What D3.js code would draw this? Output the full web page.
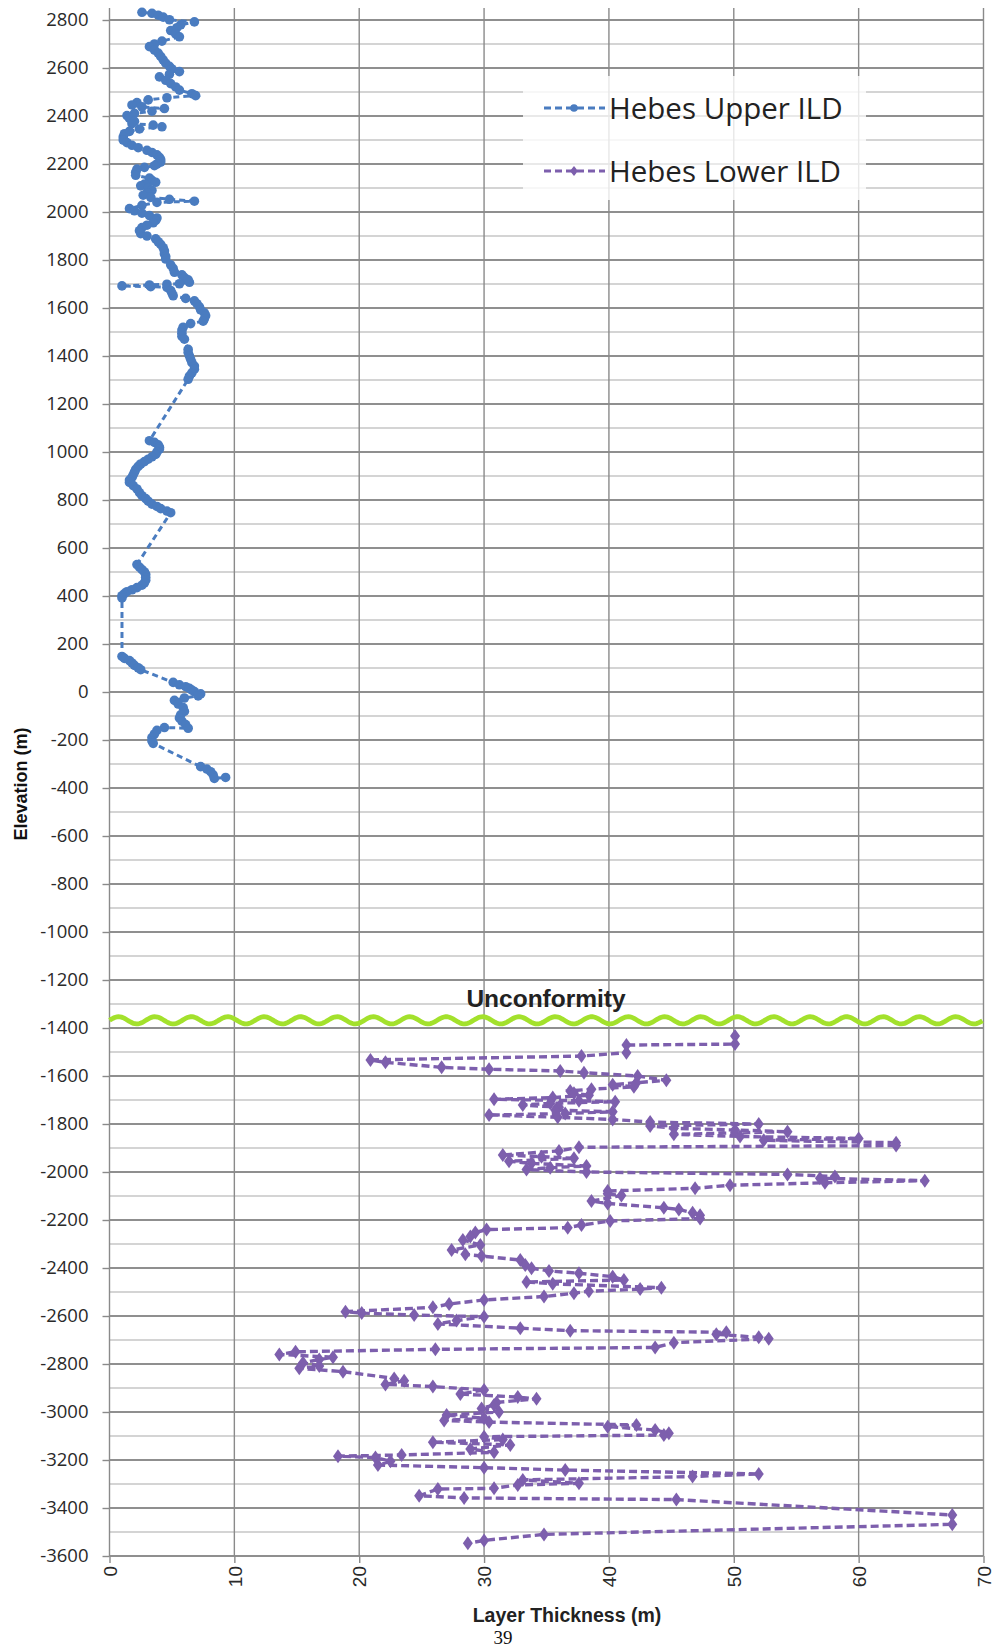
<!DOCTYPE html>
<html>
<head>
<meta charset="utf-8">
<script src="https://cdn.jsdelivr.net/npm/d3@7"></script>
<style>
  html, body { margin: 0; padding: 0; background: #fff; }
  svg { display: block; }
</style>
</head>
<body>
<svg id="chart" width="995" height="1649"></svg>
<script>
// Layer thickness (m) against elevation (m) of interior layered deposits.
// Each row: [elevation, thickness]
const upperILD = [
  [2832,2.6],[2828,3.4],[2820,3.9],[2812,4.3],[2801,4.8],[2792,6.8],[2780,5.7],[2768,5.4],[2756,4.9],[2742,5.3],
  [2730,5.6],[2712,4.2],[2700,3.6],[2689,3.2],[2675,3.6],[2662,3.9],[2648,4.1],[2634,4.3],[2620,4.5],[2607,4.8],
  [2596,5.0],[2585,5.6],[2574,4.8],[2563,4.0],[2549,4.5],[2535,4.9],[2521,5.3],[2508,5.6],[2493,6.6],[2485,6.9],
  [2476,4.6],[2467,3.1],[2456,2.2],[2446,1.8],[2438,2.6],[2431,4.4],[2420,3.4],[2411,2.0],[2402,1.4],[2390,1.6],
  [2378,2.0],[2368,1.8],[2362,3.5],[2355,4.2],[2346,2.4],[2336,1.6],[2326,1.2],[2313,1.1],[2300,1.1],[2289,1.4],
  [2278,1.8],[2268,2.3],[2257,3.0],[2248,3.4],[2238,3.8],[2228,4.0],[2218,4.1],[2208,4.1],[2200,3.8],[2193,3.6],
  [2186,2.8],[2179,2.2],[2166,2.1],[2153,2.1],[2141,3.2],[2132,3.4],[2124,3.7],[2116,2.8],[2109,2.5],[2099,3.1],
  [2090,3.4],[2080,3.0],[2070,2.7],[2061,3.3],[2053,4.8],[2045,6.8],[2040,3.8],[2028,2.6],[2014,1.6],[2005,2.0],
  [1995,2.6],[1985,3.2],[1975,3.8],[1965,3.7],[1955,3.5],[1945,3.0],[1935,2.6],[1922,2.4],[1910,2.5],[1900,3.0],
  [1888,3.7],[1876,3.9],[1865,4.1],[1851,4.3],[1838,4.4],[1826,4.4],[1815,4.5],[1804,4.5],[1780,4.9],[1765,5.1],
  [1749,5.2],[1738,5.8],[1727,6.0],[1717,6.3],[1707,6.4],[1701,5.6],[1699,4.6],[1696,3.2],[1692,1.0],[1689,3.3],
  [1686,4.6],[1673,4.9],[1662,5.0],[1651,5.1],[1640,6.1],[1630,6.8],[1618,7.0],[1605,7.2],[1592,7.3],[1580,7.6],
  [1568,7.7],[1555,7.6],[1545,7.5],[1535,6.5],[1520,5.9],[1508,5.8],[1495,5.8],[1482,5.8],[1470,6.0],[1428,6.3],
  [1415,6.3],[1400,6.4],[1386,6.5],[1372,6.6],[1358,6.8],[1345,6.8],[1330,6.6],[1316,6.4],[1303,6.3],[1047,3.2],
  [1040,3.6],[1030,3.9],[1020,4.0],[1012,4.0],[1000,3.8],[990,3.7],[980,3.4],[970,3.1],[960,2.8],[950,2.5],
  [940,2.3],[928,2.1],[916,2.0],[905,1.9],[894,1.8],[883,1.6],[873,1.6],[860,1.9],[846,2.2],[831,2.4],
  [818,2.6],[806,2.9],[795,3.1],[783,3.4],[773,3.8],[764,4.1],[754,4.6],[747,4.9],[531,2.2],[520,2.4],
  [510,2.6],[500,2.8],[490,2.9],[478,2.9],[466,2.9],[455,2.8],[445,2.6],[435,2.2],[426,1.8],[418,1.4],
  [410,1.2],[401,1.0],[392,1.0],[148,1.0],[140,1.2],[131,1.6],[121,1.8],[111,2.0],[101,2.3],[93,2.5],
  [40,5.1],[30,5.6],[22,6.1],[15,6.4],[8,6.6],[2,6.8],[-8,7.3],[-16,7.1],[-25,6.0],[-35,5.2],
  [-50,5.5],[-65,5.9],[-81,6.0],[-95,5.7],[-108,5.6],[-121,5.8],[-136,6.1],[-151,6.3],[-148,4.4],[-160,3.8],
  [-175,3.6],[-190,3.4],[-204,3.4],[-214,3.5],[-311,7.3],[-321,7.8],[-332,8.1],[-345,8.3],[-360,8.4],[-356,9.3]
];

const lowerILD = [
  [-1433,50.1],[-1467,50.1],[-1471,41.4],[-1503,41.4],[-1517,37.8],[-1533,20.9],[-1543,22.1],[-1564,26.6],[-1572,30.4],[-1579,36.1],
  [-1586,38.0],[-1600,42.3],[-1618,44.6],[-1628,42.2],[-1636,40.3],[-1645,42.0],[-1655,38.6],[-1662,36.9],[-1672,37.2],[-1680,38.4],
  [-1690,35.5],[-1697,30.8],[-1703,37.6],[-1707,40.5],[-1714,35.3],[-1721,33.1],[-1730,36.0],[-1742,35.7],[-1749,40.3],[-1756,36.5],
  [-1763,30.4],[-1772,35.9],[-1781,40.3],[-1792,43.3],[-1800,52.0],[-1808,43.3],[-1818,45.2],[-1825,50.1],[-1832,54.3],[-1843,45.2],
  [-1852,50.5],[-1860,60.0],[-1868,52.4],[-1878,63.0],[-1890,63.0],[-1897,37.6],[-1912,36.0],[-1929,31.5],[-1936,34.6],[-1943,37.2],
  [-1955,32.0],[-1964,33.8],[-1975,38.2],[-1982,35.3],[-1990,33.4],[-2000,38.2],[-2010,54.3],[-2019,58.1],[-2026,56.9],[-2036,65.3],
  [-2045,57.3],[-2055,49.7],[-2068,46.9],[-2079,39.9],[-2091,39.9],[-2098,41.0],[-2121,38.6],[-2131,39.9],[-2149,44.4],[-2156,45.6],
  [-2170,46.7],[-2180,47.3],[-2194,47.3],[-2204,40.1],[-2221,37.8],[-2232,36.7],[-2240,30.2],[-2252,29.3],[-2269,28.9],[-2283,28.3],
  [-2304,29.7],[-2325,27.4],[-2343,28.5],[-2350,29.8],[-2367,32.9],[-2388,33.3],[-2401,33.8],[-2412,35.2],[-2422,37.6],[-2436,40.3],
  [-2450,41.2],[-2458,33.4],[-2466,35.5],[-2482,44.2],[-2488,42.5],[-2497,38.4],[-2505,37.2],[-2519,34.8],[-2533,30.0],[-2550,27.2],
  [-2564,25.9],[-2582,18.9],[-2588,20.2],[-2596,24.4],[-2603,30.0],[-2619,27.8],[-2633,26.3],[-2651,32.9],[-2661,36.9],[-2668,49.4],
  [-2676,48.6],[-2689,52.0],[-2695,52.8],[-2711,45.2],[-2731,43.7],[-2739,26.1],[-2749,14.9],[-2760,13.6],[-2772,17.9],[-2781,16.8],
  [-2795,15.5],[-2808,16.8],[-2818,15.2],[-2832,18.7],[-2860,22.8],[-2870,23.6],[-2885,22.1],[-2894,25.9],[-2908,30.0],[-2925,28.1],
  [-2938,32.7],[-2945,34.2],[-2960,31.0],[-2971,30.8],[-2985,29.8],[-3000,31.2],[-3013,27.0],[-3026,30.0],[-3035,26.8],[-3042,30.4],
  [-3054,42.2],[-3061,39.9],[-3075,43.7],[-3089,44.8],[-3096,44.4],[-3103,30.0],[-3115,31.5],[-3126,25.9],[-3137,32.1],[-3154,28.9],
  [-3168,30.8],[-3179,23.4],[-3184,18.3],[-3190,21.3],[-3205,22.5],[-3221,21.5],[-3232,30.0],[-3242,36.5],[-3258,52.0],[-3269,46.7],
  [-3283,33.1],[-3297,37.6],[-3304,32.7],[-3318,30.8],[-3321,26.3],[-3349,24.8],[-3358,28.4],[-3365,45.4],[-3429,67.5],[-3468,67.5],
  [-3510,34.8],[-3535,30.0],[-3547,28.7]
];

const seriesNames = ["Hebes Upper ILD", "Hebes Lower ILD"];
const xTickValues = [0, 10, 20, 30, 40, 50, 60, 70];
const yTickValues = [2800, 2600, 2400, 2200, 2000, 1800, 1600, 1400, 1200, 1000, 800, 600, 400, 200, 0,
  -200, -400, -600, -800, -1000, -1200, -1400, -1600, -1800, -2000, -2200, -2400, -2600, -2800, -3000, -3200, -3400, -3600];
const yMinorValues = [2700, 2500, 2300, 2100, 1900, 1700, 1500, 1300, 1100, 900, 700, 500, 300, 100, -100,
  -300, -500, -700, -900, -1100, -1300, -1500, -1700, -1900, -2100, -2300, -2500, -2700, -2900, -3100, -3300, -3500];
const unconformityElevation = -1368;
const unconformityLabel = "Unconformity";
const xTitle = "Layer Thickness (m)";
const yTitle = "Elevation (m)";
const pageNumber = "39";

const colors = { upper: "#4a7cc0", lower: "#7d5fad", wave: "#a3e12c" };

const svg = d3.select("#chart");
const x = d3.scaleLinear().domain([0, 70]).range([109.5, 983.5]);
const y = d3.scaleLinear().domain([-3600, 2800]).range([1556, 20]);
const plotTop = 8;
const sans = "'Liberation Sans', Arial, sans-serif";
const plainNumber = d => String(d);   // hyphen-minus for negatives

// grid
const grid = svg.append("g");
grid.selectAll("line.minor").data(yMinorValues).join("line")
  .attr("class", "minor")
  .attr("x1", x(0)).attr("x2", x(70))
  .attr("y1", d => y(d)).attr("y2", d => y(d))
  .attr("stroke", "#c6c6c6").attr("stroke-width", 1.4);
grid.selectAll("line.major").data(yTickValues).join("line")
  .attr("class", "major")
  .attr("x1", x(0)).attr("x2", x(70))
  .attr("y1", d => y(d)).attr("y2", d => y(d))
  .attr("stroke", "#8f8f8f").attr("stroke-width", 1.9);
grid.selectAll("line.vert").data(xTickValues).join("line")
  .attr("class", "vert")
  .attr("x1", d => x(d)).attr("x2", d => x(d))
  .attr("y1", plotTop).attr("y2", y(-3600))
  .attr("stroke", "#8a8a8a").attr("stroke-width", 1.4);

// y axis
const yAxis = svg.append("g")
  .attr("transform", `translate(${x(0)},0)`)
  .call(d3.axisLeft(y).tickValues(yTickValues).tickSize(7).tickPadding(14).tickFormat(plainNumber));
yAxis.select(".domain").remove();
yAxis.selectAll(".tick line").attr("stroke", "#8a8a8a").attr("stroke-width", 1.4);
yAxis.selectAll(".tick text")
  .attr("font-family", "'Open Sans', sans-serif").attr("font-size", 18.5).attr("fill", "#2a2a2a");

// x axis
const xAxis = svg.append("g")
  .attr("transform", `translate(0,${y(-3600)})`)
  .call(d3.axisBottom(x).tickValues(xTickValues).tickSize(7).tickFormat(plainNumber));
xAxis.select(".domain").remove();
xAxis.selectAll(".tick line").attr("stroke", "#8a8a8a").attr("stroke-width", 1.4);
xAxis.selectAll(".tick text")
  .attr("font-family", sans).attr("font-size", 19).attr("fill", "#2a2a2a")
  .attr("transform", "rotate(-90)")
  .attr("text-anchor", "end")
  .attr("x", -10).attr("y", 0).attr("dy", "0.35em");

// axis titles
svg.append("text")
  .attr("transform", `translate(27,784) rotate(-90)`)
  .attr("text-anchor", "middle")
  .attr("font-family", sans).attr("font-weight", "bold").attr("font-size", 18)
  .attr("fill", "#111").text(yTitle);
svg.append("text")
  .attr("x", 567).attr("y", 1622)
  .attr("text-anchor", "middle")
  .attr("font-family", sans).attr("font-weight", "bold").attr("font-size", 19.5)
  .attr("fill", "#222").text(xTitle);

// page number beneath the chart
svg.append("text")
  .attr("x", 503).attr("y", 1644)
  .attr("text-anchor", "middle")
  .attr("font-family", "'Liberation Serif', serif").attr("font-size", 19)
  .attr("fill", "#111").text(pageNumber);

// unconformity wave
const waveY = y(unconformityElevation);
const waveXs = d3.range(x(0), x(70) + 0.5, 1.5);
svg.append("path")
  .attr("d", d3.line().x(d => d).y(d => waveY - 3.6 * Math.sin((d - x(0)) * 2 * Math.PI / 36.4))(waveXs))
  .attr("fill", "none").attr("stroke", colors.wave).attr("stroke-width", 4.8);
svg.append("text")
  .attr("x", 546).attr("y", 1007)
  .attr("text-anchor", "middle")
  .attr("font-family", sans).attr("font-weight", "bold").attr("font-size", 24.5)
  .attr("fill", "#222").text(unconformityLabel);

// series
const line = d3.line().x(d => x(d[1])).y(d => y(d[0]));
const diamond = "M0,-7L5,0L0,7L-5,0Z";

svg.append("path").datum(lowerILD)
  .attr("d", line).attr("fill", "none")
  .attr("stroke", colors.lower).attr("stroke-width", 3.4).attr("stroke-dasharray", "8,4");
svg.append("g").selectAll("path").data(lowerILD).join("path")
  .attr("d", diamond)
  .attr("transform", d => `translate(${x(d[1])},${y(d[0])})`)
  .attr("fill", colors.lower);

svg.append("path").datum(upperILD)
  .attr("d", line).attr("fill", "none")
  .attr("stroke", colors.upper).attr("stroke-width", 3).attr("stroke-dasharray", "6,4");
svg.append("g").selectAll("circle").data(upperILD).join("circle")
  .attr("cx", d => x(d[1])).attr("cy", d => y(d[0])).attr("r", 4.8)
  .attr("fill", colors.upper);

// legend
const legend = svg.append("g");
legend.append("rect")
  .attr("x", 523).attr("y", 76).attr("width", 343).attr("height", 124)
  .attr("fill", "#fff").attr("fill-opacity", 0.8);
const legendRows = [
  { name: seriesNames[0], color: colors.upper, cy: 108, shape: "circle" },
  { name: seriesNames[1], color: colors.lower, cy: 171, shape: "diamond" }
];
legendRows.forEach(r => {
  legend.append("line")
    .attr("x1", 544).attr("x2", 605).attr("y1", r.cy).attr("y2", r.cy)
    .attr("stroke", r.color).attr("stroke-width", 2.8).attr("stroke-dasharray", "7,4");
  if (r.shape === "circle") {
    legend.append("circle").attr("cx", 574).attr("cy", r.cy).attr("r", 3.8).attr("fill", r.color);
  } else {
    legend.append("path").attr("d", "M0,-5L4,0L0,5L-4,0Z")
      .attr("transform", `translate(574,${r.cy})`).attr("fill", r.color);
  }
  legend.append("text")
    .attr("x", 609).attr("y", r.cy + 11)
    .attr("font-family", "'Open Sans', sans-serif").attr("font-size", 29.5)
    .attr("fill", "#222").text(r.name);
});
</script>
</body>
</html>
